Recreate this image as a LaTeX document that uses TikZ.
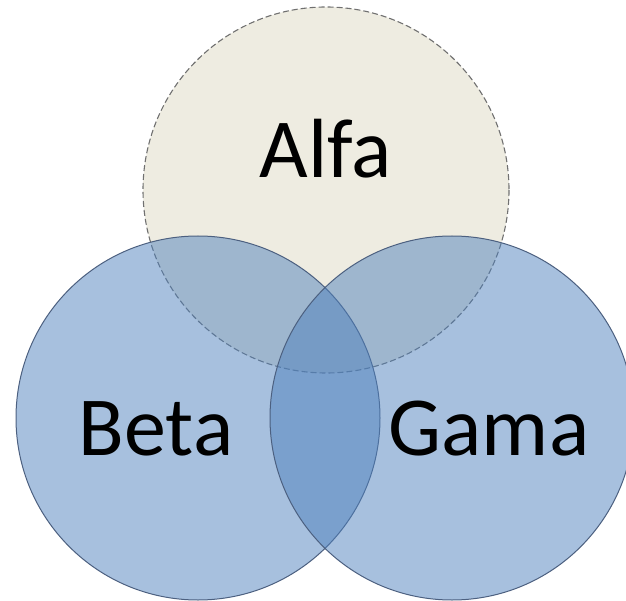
\documentclass[tikz,border=0pt]{standalone}
\usepackage{fontspec}
\setmainfont{Carlito}

\definecolor{alfafill}{RGB}{238,236,225}
\definecolor{setblue}{RGB}{79,129,189}
\definecolor{setline}{RGB}{76,96,128}
\definecolor{alfaline}{RGB}{112,112,112}

\tikzset{
  alfaset/.style={fill=alfafill, draw=alfaline, line width=1.1pt, dash pattern=on 6pt off 3pt},
  blueset/.style={fill=setblue, fill opacity=0.5, draw=setline, draw opacity=1, line width=1pt},
  setlabel/.style={anchor=base, inner sep=0pt, font=\fontsize{84}{100}\selectfont}
}

\begin{document}
\begin{tikzpicture}[x=1pt,y=-1pt]
            \useasboundingbox (0,0) rectangle (626,601);

            \coordinate (A) at (326,190);
            \coordinate (B) at (198,418);
            \coordinate (G) at (452,418);

            \draw[alfaset] (A) circle[radius=183];

            \draw[blueset] (B) circle[radius=182];
            \draw[blueset] (G) circle[radius=182];

            \node[setlabel] (alfa) at (326,178) {Alfa};
            \node[setlabel] (beta) at (156,455) {Beta};
            \node[setlabel] (gama) at (489,455) {Gama};
        \end{tikzpicture}
\end{document}
